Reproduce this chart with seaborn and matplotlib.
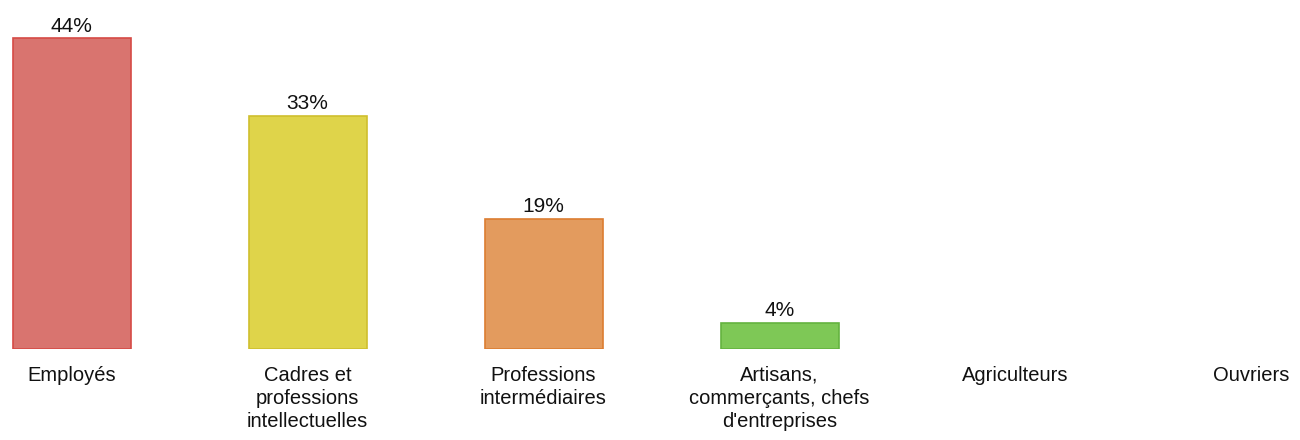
import numpy as np
import pandas as pd
import matplotlib
matplotlib.use('Agg')
import matplotlib.pyplot as plt
import seaborn as sns

categories = ['Employés', 'Cadres et\nprofessions\nintellectuelles', 'Professions\nintermédiaires',
              'Artisans,\ncommerçants, chefs\nd\'entreprises', 'Agriculteurs', 'Ouvriers']
values = [44.0, 33.0, 18.4, 3.7, 0, 0]
labels = ['44%', '33%', '19%', '4%', '', '']
fill_colors = ['#d9746f', '#dfd44a', '#e39b5e', '#7ec856', '#ffffff', '#ffffff']
edge_colors = ['#d64a45', '#cfbf2e', '#dc7d31', '#64b33f', 'none', 'none']

sns.set_style('white')
plt.rcParams['font.family'] = ['Liberation Sans', 'DejaVu Sans']

df = pd.DataFrame({'cat': categories, 'val': values})

fig = plt.figure(figsize=(13, 4.4), dpi=100)
ax = fig.add_axes([0, 91/440, 1, 349/440])
sns.barplot(data=df, x='cat', y='val', hue='cat', palette=fill_colors, legend=False,
            width=0.5, ax=ax, linewidth=1.2, saturation=1)
for p, ec in zip(ax.patches, edge_colors):
    p.set_edgecolor(ec)

# percent labels on top of bars
for cont, lab in zip(ax.containers, labels):
    ax.bar_label(cont, labels=[lab], padding=2, fontsize=15, color='#111111')

ax.set_xlim(-71.5/236, (1300-71.5)/236)
ax.set_ylim(0, 349/7.06)
ax.set_xlabel('')
ax.set_ylabel('')
ax.set_yticks([])
ax.tick_params(axis='x', length=0, pad=12, labelsize=14.5, labelcolor='#111111')
for t in ax.get_xticklabels():
    t.set_linespacing(1.28)
sns.despine(ax=ax, left=True, bottom=True)

fig.savefig('out.png', dpi=100)
